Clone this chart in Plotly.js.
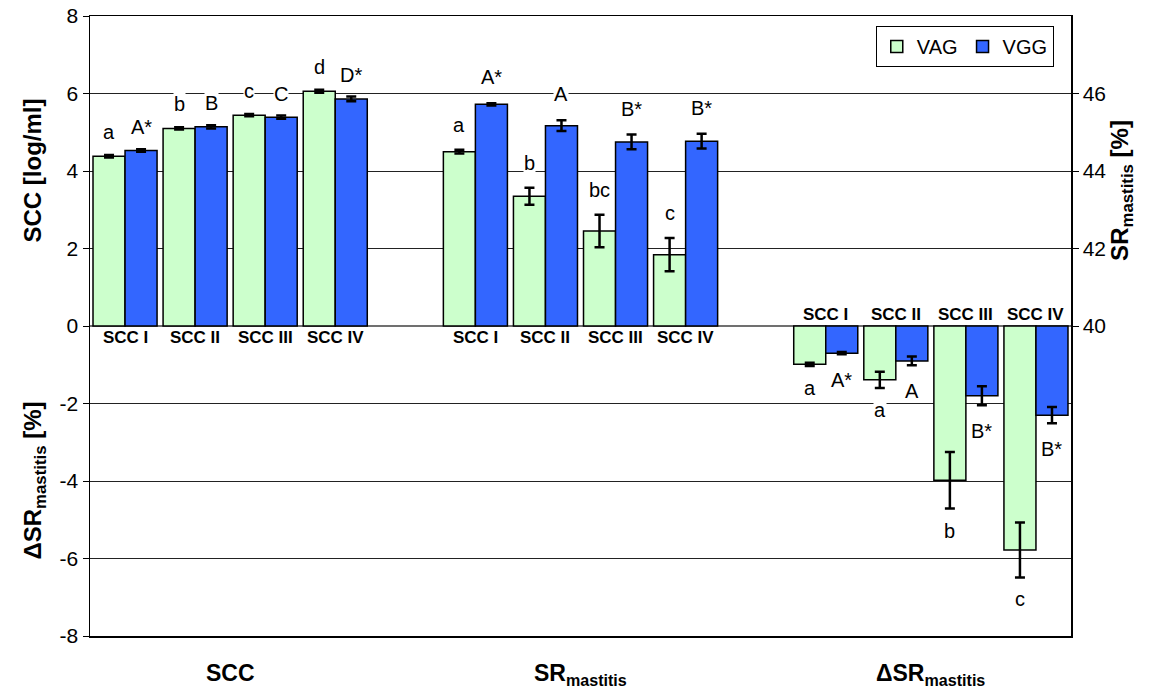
<!DOCTYPE html>
<html>
<head>
<meta charset="utf-8">
<script src="https://cdn.plot.ly/plotly-3.0.1.min.js"></script>
<style>html,body{margin:0;padding:0;background:#fff;}#chart{width:1152px;height:688px;}</style>
</head>
<body>
<div id="chart"></div>
<script>
// ---- data ----
const groups = ['SCC', 'SR<sub>mastitis</sub>', 'ΔSR<sub>mastitis</sub>'];
const classes = ['SCC I', 'SCC II', 'SCC III', 'SCC IV'];
const series = ['VAG', 'VGG'];

const sccVAG = [4.38, 5.10, 5.44, 6.06];
const sccVAGErr = [0.03, 0.03, 0.03, 0.04];
const sccVGG = [4.53, 5.14, 5.39, 5.86];
const sccVGGErr = [0.03, 0.04, 0.04, 0.06];

const srVAG = [44.50, 43.35, 42.45, 41.84];
const srVAGErr = [0.05, 0.22, 0.42, 0.43];
const srVGG = [45.72, 45.17, 44.75, 44.77];
const srVGGErr = [0.03, 0.14, 0.19, 0.19];

const dVAG = [-0.99, -1.39, -3.98, -5.78];
const dVAGErr = [0.04, 0.21, 0.73, 0.71];
const dVGG = [-0.70, -0.90, -1.80, -2.30];
const dVGGErr = [0.03, 0.11, 0.245, 0.21];

const sccVAGLetters = ['a', 'b', 'c', 'd'];
const sccVGGLetters = ['A*', 'B', 'C', 'D*'];
const srVAGLetters = ['a', 'b', 'bc', 'c'];
const srVGGLetters = ['A*', 'A', 'B*', 'B*'];
const dVAGLetters = ['a', 'a', 'b', 'c'];
const dVGGLetters = ['A*', 'A', 'B*', 'B*'];

const leftTicks = [-8, -6, -4, -2, 0, 2, 4, 6, 8];
const leftTickText = ['-8', '-6', '-4', '-2', '0', '2', '4', '6', '8'];
const rightTicks = [40, 42, 44, 46];
const rightTickText = ['40', '42', '44', '46'];

// ---- layout helpers ----
const colors = {VAG: '#CCFFCC', VGG: '#3366FF'};
const slotsPerGroup = classes.length + 1;
const slot = (g, i) => g * slotsPerGroup + i;
const barW = 0.457;
const FONT = '"Liberation Sans", Arial, sans-serif';

function barTrace(name, g, vals, errs, yaxis, showleg) {
  const isVAG = name === 'VAG';
  const t = {
    type: 'bar',
    name: name,
    legendgroup: name,
    showlegend: showleg,
    x: classes.map((c, i) => slot(g, i)),
    y: vals,
    width: classes.map(() => barW),
    offset: classes.map(() => isVAG ? -barW : 0),
    marker: {color: colors[name], line: {color: '#000', width: 1.5}},
    error_y: {type: 'data', array: errs, visible: true, color: '#000', thickness: 2.5, width: 5},
    yaxis: yaxis,
    hoverinfo: 'skip'
  };
  if (yaxis === 'y2') {
    t.base = classes.map(() => 40);
    t.y = vals.map(v => v - 40);
  }
  return t;
}

const traces = [
  barTrace('VAG', 0, sccVAG, sccVAGErr, 'y', true),
  barTrace('VGG', 0, sccVGG, sccVGGErr, 'y', true),
  barTrace('VAG', 1, srVAG, srVAGErr, 'y2', false),
  barTrace('VGG', 1, srVGG, srVGGErr, 'y2', false),
  barTrace('VAG', 2, dVAG, dVAGErr, 'y', false),
  barTrace('VGG', 2, dVGG, dVGGErr, 'y', false)
];

const ann = [];
const letterFont = {family: FONT, size: 20, color: '#000'};
function addLetters(g, vals, errs, letters, isVAG, yref, up, shift) {
  letters.forEach((L, i) => {
    const x = slot(g, i) + (isVAG ? -barW / 2 : barW / 2);
    const y = up ? vals[i] + errs[i] : vals[i] - errs[i];
    ann.push({x: x, y: y, xref: 'x', yref: yref, text: L, showarrow: false,
      font: letterFont, bgcolor: '#fff', borderpad: 0,
      yanchor: 'middle', yshift: up ? shift : -shift});
  });
}
addLetters(0, sccVAG, sccVAGErr, sccVAGLetters, true, 'y', true, 23);
addLetters(0, sccVGG, sccVGGErr, sccVGGLetters, false, 'y', true, 22);
addLetters(1, srVAG, srVAGErr, srVAGLetters, true, 'y2', true, 25);
addLetters(1, srVGG, srVGGErr, srVGGLetters, false, 'y2', true, 26);
addLetters(2, dVAG, dVAGErr, dVAGLetters, true, 'y', false, 22);
addLetters(2, dVGG, dVGGErr, dVGGLetters, false, 'y', false, 26);

// class labels
groups.forEach((gname, g) => {
  classes.forEach((c, i) => {
    const below = g < 2;
    ann.push({x: slot(g, i), y: 0, xref: 'x', yref: 'y', text: '<b>' + c + '</b>',
      showarrow: false, font: {family: FONT, size: 17, color: '#000'},
      yanchor: below ? 'top' : 'bottom'});
  });
  ann.push({x: slot(g, (classes.length - 1) / 2), y: 0, xref: 'x', yref: 'paper',
    text: '<b>' + gname + '</b>', showarrow: false,
    font: {family: FONT, size: 23, color: '#000'}, yanchor: 'top', yshift: -22});
});

// axis titles
ann.push({x: 0, xref: 'paper', xshift: -74, y: 4, yref: 'y', text: '<b>SCC [log/ml]</b>',
  textangle: -90, showarrow: false, font: {family: FONT, size: 24, color: '#000'}});
ann.push({x: 0, xref: 'paper', xshift: -74, y: -4, yref: 'y', text: '<b>ΔSR<sub>mastitis</sub> [%]</b>',
  textangle: -90, showarrow: false, font: {family: FONT, size: 24, color: '#000'}});
ann.push({x: 1, xref: 'paper', xshift: 68, y: 43.5, yref: 'y2', text: '<b>SR<sub>mastitis</sub> [%]</b>',
  textangle: -90, showarrow: false, font: {family: FONT, size: 24, color: '#000'}});

const layout = {
  width: 1152, height: 688,
  margin: {l: 90, r: 81, t: 16, b: 52},
  paper_bgcolor: '#fff', plot_bgcolor: '#fff',
  font: {family: FONT, size: 20, color: '#000'},
  showlegend: true,
  legend: {orientation: 'h', x: 0.801, y: 0.984, xanchor: 'left', yanchor: 'top',
    bordercolor: '#000', borderwidth: 1, bgcolor: '#fff',
    font: {family: FONT, size: 20, color: '#000'}, traceorder: 'normal'},
  xaxis: {range: [-0.5, slotsPerGroup * 3 - 1 - 0.5], showticklabels: false, ticks: '',
    showgrid: false, zeroline: false, showline: true, linecolor: '#000', linewidth: 1.5, mirror: true},
  yaxis: {range: [-8, 8], tickvals: leftTicks, ticktext: leftTickText, ticks: 'outside', ticklen: 6, tickcolor: '#000',
    showgrid: true, gridcolor: '#222', gridwidth: 1, zeroline: true, zerolinecolor: '#707070', zerolinewidth: 2,
    showline: true, linecolor: '#000', linewidth: 1.5, tickfont: {family: FONT, size: 21}},
  yaxis2: {range: [32, 48], overlaying: 'y', side: 'right', tickvals: rightTicks, ticktext: rightTickText,
    ticks: 'outside', ticklen: 6, tickcolor: '#000', showgrid: false, zeroline: false, showline: true,
    linecolor: '#000', linewidth: 1.5, tickfont: {family: FONT, size: 21}},
  annotations: ann,
  bargap: 0
};

Plotly.newPlot('chart', traces, layout, {staticPlot: true});
</script>
</body>
</html>
